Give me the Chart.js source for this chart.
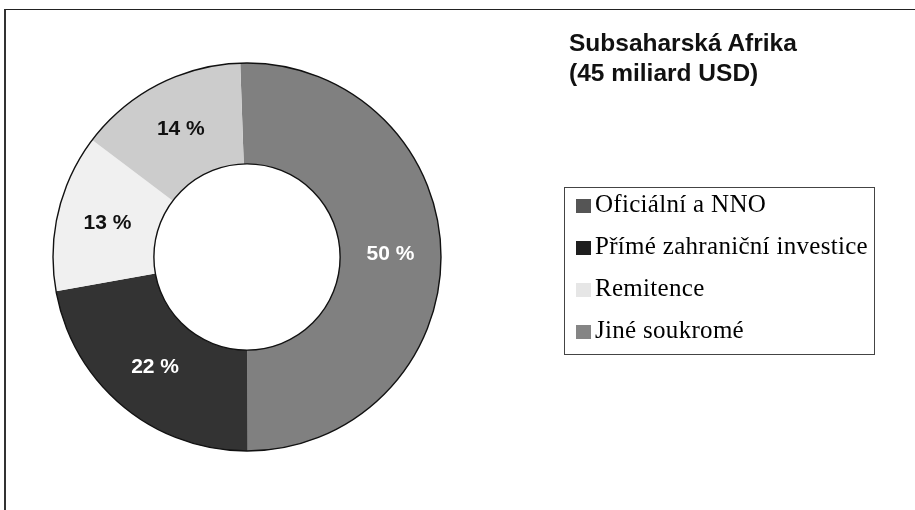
<!DOCTYPE html>
<html lang="cs">
<head>
<meta charset="utf-8">
<title>Subsaharská Afrika</title>
<script src="https://cdn.jsdelivr.net/npm/chart.js@4.4.1/dist/chart.umd.min.js"></script>
<style>
  html, body { margin: 0; padding: 0; background: #fff; }
  #wrap { position: relative; width: 915px; height: 510px; overflow: hidden; }
  #frame {
    position: absolute; left: 4px; top: 9px; right: -10px; bottom: -10px;
    border-top: 1.5px solid #222; border-left: 2px solid #333;
  }
  #chart { position: absolute; left: 0; top: 0; }
  #title {
    position: absolute; left: 569px; top: 28px;
    font: bold 24.5px "Liberation Sans", Arial, sans-serif;
    line-height: 30px; color: #111;
  }
  #legend {
    position: absolute; left: 564px; top: 187px; width: 311px; height: 168px;
    border: 1px solid #444; box-sizing: border-box;
  }
  .row {
    position: absolute; left: 11px; height: 42px; line-height: 42px;
    font: 25px "Liberation Serif", "Times New Roman", serif; letter-spacing: 0.3px;
    color: #000; white-space: nowrap;
  }
  .sw { display: inline-block; width: 15px; height: 14px; margin-right: 4px; vertical-align: -1px; }
</style>
</head>
<body>
<div id="wrap">
  <div id="frame"></div>
  <canvas id="chart" width="915" height="510"></canvas>
  <div id="title"></div>
  <div id="legend"></div>
</div>
<script>
// Slices in drawing order, clockwise from 12 o'clock
const categories = ['Jiné soukromé', 'Přímé zahraniční investice', 'Remitence', 'Oficiální a NNO'];
const shares     = [50, 22, 13, 14];
const titleLines = ['Subsaharská Afrika', '(45 miliard USD)'];
const legendOrder = ['Oficiální a NNO', 'Přímé zahraniční investice', 'Remitence', 'Jiné soukromé'];

const sliceColors  = ['#808080', '#333333', '#f0f0f0', '#cccccc'];
const labelColors  = ['#ffffff', '#ffffff', '#111111', '#111111'];
// swatches in the printed legend don't match the slices exactly
const swatchColors = {
  'Oficiální a NNO': '#555555',
  'Přímé zahraniční investice': '#1e1e1e',
  'Remitence': '#e6e6e6',
  'Jiné soukromé': '#858585',
};

document.getElementById('title').innerHTML = titleLines.join('<br>');

const legendEl = document.getElementById('legend');
legendOrder.forEach((name, i) => {
  const row = document.createElement('div');
  row.className = 'row';
  row.style.top = (2 + i * 42) + 'px';
  row.innerHTML = '<span class="sw" style="background:' + swatchColors[name] + '"></span>' + name;
  legendEl.appendChild(row);
});

// outline on outer + inner edge only, no lines between slices
const ringOutline = {
  id: 'ringOutline',
  afterDatasetsDraw(chart) {
    const arc = chart.getDatasetMeta(0).data[0];
    if (!arc) return;
    const { ctx } = chart;
    ctx.save();
    ctx.strokeStyle = '#111';
    ctx.lineWidth = 1.4;
    [arc.outerRadius, arc.innerRadius].forEach(r => {
      ctx.beginPath();
      ctx.arc(arc.x, arc.y, r, 0, Math.PI * 2);
      ctx.stroke();
    });
    ctx.restore();
  },
};

const sliceLabels = {
  id: 'sliceLabels',
  afterDatasetsDraw(chart) {
    const { ctx } = chart;
    const meta = chart.getDatasetMeta(0);
    ctx.save();
    ctx.font = 'bold 21px "Liberation Sans", Arial, sans-serif';
    ctx.textAlign = 'center';
    ctx.textBaseline = 'middle';
    meta.data.forEach((arc, i) => {
      const p = arc.getCenterPoint();
      ctx.fillStyle = labelColors[i];
      ctx.fillText(shares[i] + ' %', p.x, p.y);
    });
    ctx.restore();
  },
};

new Chart(document.getElementById('chart'), {
  type: 'doughnut',
  data: {
    labels: categories,
    datasets: [{
      data: shares,
      backgroundColor: sliceColors,
      borderWidth: 0,
      hoverOffset: 0,
    }],
  },
  options: {
    responsive: false,
    animation: false,
    rotation: -2,
    cutout: '48%',
    layout: { padding: { left: 53, top: 63, right: 474, bottom: 59 } },
    plugins: {
      legend: { display: false },
      tooltip: { enabled: false },
    },
  },
  plugins: [ringOutline, sliceLabels],
});
</script>
</body>
</html>
